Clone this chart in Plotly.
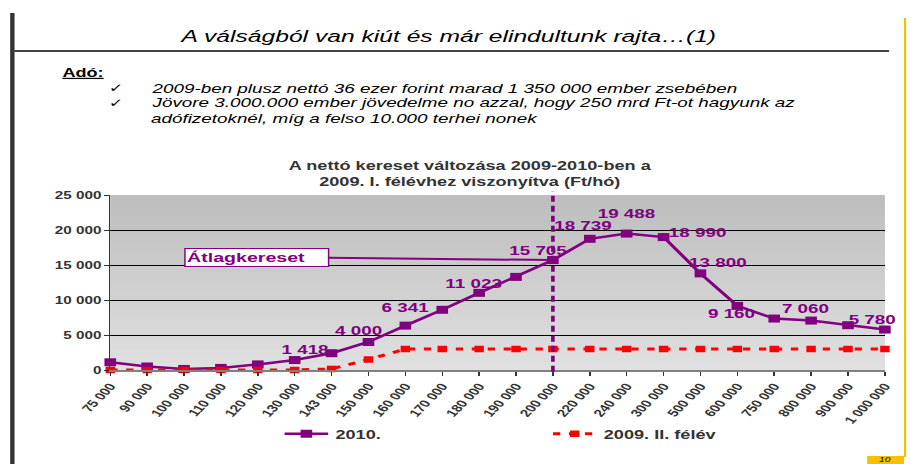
import plotly.graph_objects as go

categories = ["75 000", "90 000", "100 000", "110 000", "120 000", "130 000", "143 000",
              "150 000", "160 000", "170 000", "180 000", "190 000", "200 000", "220 000",
              "240 000", "300 000", "500 000", "600 000", "750 000", "800 000", "900 000",
              "1 000 000"]
values_2010 = [1100, 500, 150, 300, 800, 1418, 2400, 4000, 6341, 8600, 11023, 13300,
               15705, 18739, 19488, 18990, 13800, 9160, 7350, 7060, 6400, 5780]
values_2009 = [0, 0, 0, 0, 0, 0, 150, 1500, 3000, 3000, 3000, 3000, 3000, 3000, 3000,
               3000, 3000, 3000, 3000, 3000, 3000, 3000]
y_ticks = [0, 5000, 10000, 15000, 20000, 25000]
y_tick_labels = ["0", "5 000", "10 000", "15 000", "20 000", "25 000"]

labeled_idx = [5, 7, 8, 10, 12, 13, 14, 15, 16, 17, 19, 21]
# label offsets in screen pixels (dx, dy)
label_shift = {5: (10, 11), 7: (-9, 12), 8: (0, 18), 10: (-5, 9), 12: (-14, 10),
               13: (-7, 13), 14: (0, 20), 15: (34, 5), 16: (17, 11), 17: (-5, -8),
               19: (-6, 12), 21: (-13, 10)}

PURPLE = "#800080"
RED = "#ff0000"
FONT = "Liberation Sans, Arial, sans-serif"

# the slide is horizontally stretched: figure drawn narrower then scaled in x
W_SCREEN = 911
W_FIG = 628
S = W_SCREEN / W_FIG
H = 464
ML, MR, MT, MB = 76, 16, 195, 94
PW = W_FIG - ML - MR
PH = H - MT - MB

def px_x(px):
    return (px / S - ML) / PW

def px_y(py):
    return (H - MB - py) / PH

fig = go.Figure()
fig.add_trace(go.Scatter(x=categories, y=values_2010, name="2010.", mode="lines+markers",
                         line=dict(color=PURPLE, width=2.5),
                         marker=dict(symbol="square", size=8, color=PURPLE),
                         cliponaxis=False))
fig.add_trace(go.Scatter(x=categories, y=values_2009, name="2009. II. félév", mode="lines+markers",
                         line=dict(color=RED, width=3, dash="5px,6px"),
                         marker=dict(symbol="square", size=6.5, color=RED),
                         cliponaxis=False))

shapes = []
n = 25
for i in range(n):
    t = i / (n - 1)
    c = int(224 - (224 - 190) * t)
    shapes.append(dict(type="rect", xref="paper", yref="y", x0=0, x1=1,
                       y0=i * 1000, y1=(i + 1) * 1000, fillcolor=f"rgb({c},{c},{c})",
                       line=dict(width=0), layer="below"))
shapes.append(dict(type="line", xref="x", yref="paper", x0=categories[12], x1=categories[12],
                   y0=-0.01, y1=1.02, line=dict(color=PURPLE, width=2.5, dash="6px,4px")))
shapes += [
    dict(type="line", xref="paper", yref="paper", x0=px_x(12), x1=px_x(12), y0=px_y(13), y1=px_y(470),
         line=dict(color="#333333", width=3)),
    dict(type="line", xref="paper", yref="paper", x0=px_x(12), x1=px_x(892), y0=px_y(51), y1=px_y(51),
         line=dict(color="#444444", width=2)),
    dict(type="line", xref="paper", yref="paper", x0=px_x(908), x1=px_x(908), y0=px_y(18), y1=px_y(457),
         line=dict(color="#f5c000", width=1.5)),
    dict(type="rect", xref="paper", yref="paper", x0=px_x(870), x1=px_x(907), y0=px_y(456), y1=px_y(470),
         line=dict(width=0), fillcolor="#f5c000"),
]
fig.update_layout(shapes=shapes)

annotations = []
for i in labeled_idx:
    dx, dy = label_shift[i]
    annotations.append(dict(x=categories[i], y=values_2010[i], text=f"{values_2010[i]:,}".replace(",", " "),
                            showarrow=False, xshift=dx / S, yshift=dy,
                            xanchor="center", yanchor="middle",
                            font=dict(family=FONT, size=13, color=PURPLE, weight="bold")))
annotations.append(dict(x=categories[12], y=values_2010[12], text="<b>Átlagkereset</b>",
                        showarrow=True, ax=-296 / S, ay=-3, arrowhead=0, arrowwidth=2, arrowcolor=PURPLE,
                        bgcolor="white", bordercolor=PURPLE, borderwidth=1, borderpad=1,
                        width=96, align="left",
                        font=dict(family=FONT, size=13.5, color=PURPLE)))
annotations.append(dict(xref="paper", yref="paper", x=px_x(472), y=px_y(174),
                        xanchor="center", yanchor="middle",
                        text="<b>A nettó kereset változása 2009-2010-ben a<br>2009. I. félévhez viszonyítva (Ft/hó)</b>",
                        showarrow=False, font=dict(family=FONT, size=12.5, color="#333333")))
annotations.append(dict(xref="paper", yref="paper", x=px_x(450), y=px_y(36),
                        xanchor="center", yanchor="middle",
                        text="<i>A válságból van kiút és már elindultunk rajta…(1)</i>",
                        showarrow=False, font=dict(family=FONT, size=17, color="black")))
annotations.append(dict(xref="paper", yref="paper", x=px_x(60), y=px_y(73), xanchor="left", yanchor="middle",
                        text="<b><u>Adó:</u></b>", showarrow=False,
                        font=dict(family=FONT, size=12.5, color="black")))
for yy in (88, 103):
    annotations.append(dict(xref="paper", yref="paper", x=px_x(106), y=px_y(yy), xanchor="left", yanchor="middle",
                            text="✓", showarrow=False, font=dict(family="DejaVu Sans", size=12, color="black")))
lines = ["2009-ben plusz nettó 36 ezer forint marad 1 350 000 ember zsebében",
         "Jövore 3.000.000 ember jövedelme no azzal, hogy 250 mrd Ft-ot hagyunk az",
         "adófizetoknél, míg a felso 10.000 terhei nonek"]
for yy, tx in zip((88, 103, 119), lines):
    annotations.append(dict(xref="paper", yref="paper", x=px_x(148), y=px_y(yy), xanchor="left", yanchor="middle",
                            text=f"<i>{tx}</i>", showarrow=False,
                            font=dict(family=FONT, size=13, color="black")))
annotations.append(dict(xref="paper", yref="paper", x=px_x(888), y=px_y(459),
                        xanchor="center", yanchor="middle",
                        text="<i>10</i>", showarrow=False,
                        font=dict(family=FONT, size=7, color="black")))
fig.update_layout(annotations=annotations)

fig.update_layout(
    width=W_FIG, height=H,
    margin=dict(l=ML, r=MR, t=MT, b=MB),
    paper_bgcolor="white", plot_bgcolor="rgb(210,210,210)",
    font=dict(family=FONT),
    showlegend=True,
    legend=dict(orientation="h", x=px_x(278), y=px_y(434), yanchor="middle", xanchor="left",
                entrywidth=140, entrywidthmode="pixels",
                font=dict(family=FONT, size=12.5, color="#333333", weight="bold"),
                bgcolor="rgba(0,0,0,0)"),
    xaxis=dict(type="category", range=[0, 21], tickangle=-55, showgrid=False,
               showline=True, linecolor="#808080", linewidth=2, ticks="outside", ticklen=4,
               tickcolor="#333333",
               tickfont=dict(family=FONT, size=10.5, color="#333333", weight="bold")),
    yaxis=dict(range=[0, 25000], tickvals=y_ticks, ticktext=y_tick_labels,
               showgrid=True, gridcolor="black", gridwidth=1, zeroline=False,
               showline=True, linecolor="#333333", linewidth=1, ticks="outside", ticklen=3,
               tickcolor="#333333",
               tickfont=dict(family=FONT, size=10.5, color="#333333", weight="bold")),
)

post = (
    "document.body.style.margin='0';"
    "var gd=document.getElementById('{plot_id}');"
    "gd.style.transformOrigin='0 0';"
    f"gd.style.transform='scaleX({S:.5f})';"
)
fig.write_html("out.html", post_script=post, config={"displayModeBar": False})
